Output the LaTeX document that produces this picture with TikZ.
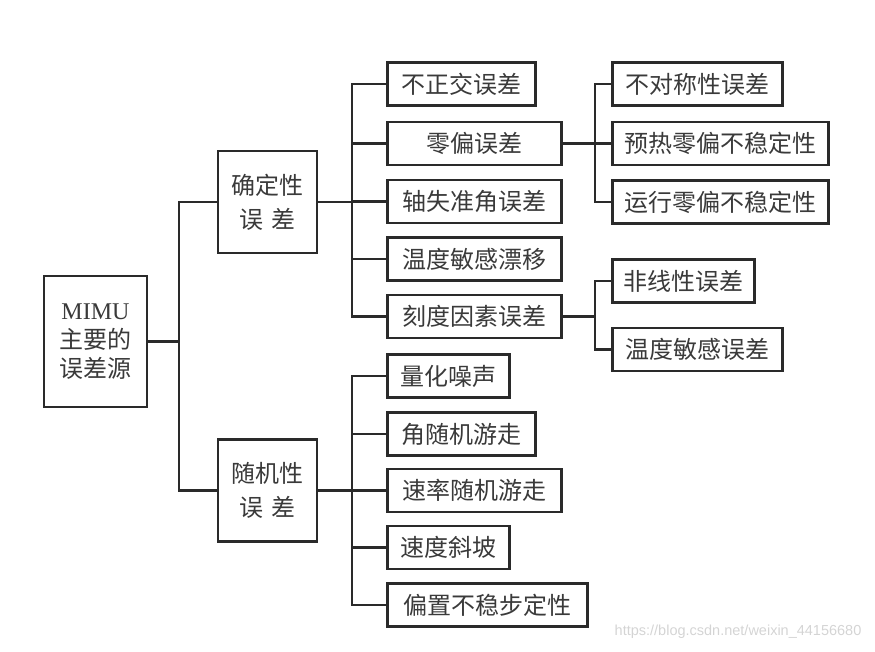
\documentclass[tikz,border=0pt]{standalone}
\usepackage{fontspec}
\setmainfont{Liberation Serif}
\newfontfamily\cjk{Noto Sans CJK SC}
\newfontfamily\wmfont{Liberation Sans}
\usetikzlibrary{positioning}
\definecolor{cline}{HTML}{2A2A2A}
\definecolor{ctext}{HTML}{3A3A3A}
\definecolor{cmark}{HTML}{D4D4D4}
\tikzset{
  every picture/.style={line width=2.6pt},
  box/.style={draw=cline, fill=white, anchor=west, minimum height=43pt, inner xsep=14pt, inner ysep=0pt,
    text=ctext, font=\cjk\fontsize{24}{28}\selectfont},
  group/.style={box, anchor=center, minimum width=99pt, minimum height=102pt, inner xsep=0pt, align=center,
    font=\cjk\fontsize{24}{34}\selectfont},
  link/.style={draw=cline, line width=2.6pt},
  watermark/.style={text=cmark, font=\wmfont\fontsize{14.5}{16}\selectfont, anchor=east},
}
\begin{document}
\begin{tikzpicture}[x=1pt, y=-1pt]
  \useasboundingbox (0,0) rectangle (875,651);
  % root and the two kinds of error
  \node[group, minimum width=103pt, minimum height=131pt, font=\cjk\fontsize{24}{29}\selectfont] (root) at (95.5,341.5)
    {{\rmfamily\fontsize{24}{29}\selectfont MIMU}\\主要的\\误差源};
  \node[group] (det) at (267.5,202) {确定性\\误\,\,差};
  \node[group] (rnd) at (267.5,490.5) {随机性\\误\,\,差};
  \coordinate (j1) at (179,341.5);
  \draw[link] (root.east) -- (j1);
  \draw[link] (det.west) -| (j1);
  \draw[link] (rnd.west) -| (j1);
  % deterministic errors
  \node[box] (d1) at (386,84) {不正交误差};
  \node[box, minimum width=174pt] (d2) at (386,143.5) {零偏误差};
  \node[box, inner xsep=15pt] (d3) at (386,201.5) {轴失准角误差};
  \node[box, inner xsep=15pt] (d4) at (386,259) {温度敏感漂移};
  \node[box, inner xsep=15pt] (d5) at (386,316.5) {刻度因素误差};
  \coordinate (j2) at (352,202);
  \draw[link] (det.east) -- (j2);
  \foreach \n in {d1,d2,d3,d4,d5} \draw[link] (\n.west) -| (j2);
  % bias errors
  \node[box, inner xsep=13pt] (b1) at (611,84) {不对称性误差};
  \node[box, inner xsep=12pt] (b2) at (611,143.5) {预热零偏不稳定性};
  \node[box, inner xsep=12pt] (b3) at (611,202) {运行零偏不稳定性};
  \coordinate (j3) at (595,143.5);
  \draw[link] (d2.east) -- (j3);
  \foreach \n in {b1,b2,b3} \draw[link] (\n.west) -| (j3);
  % scale factor errors
  \node[box, inner xsep=11pt] (s1) at (611,281) {非线性误差};
  \node[box, inner xsep=13pt] (s2) at (611,349.5) {温度敏感误差};
  \coordinate (j4) at (595,316.5);
  \draw[link] (d5.east) -- (j4);
  \foreach \n in {s1,s2} \draw[link] (\n.west) -| (j4);
  % random errors
  \node[box, inner xsep=13pt] (r1) at (386,376) {量化噪声};
  \node[box] (r2) at (386,434) {角随机游走};
  \node[box, inner xsep=15pt] (r3) at (386,490.5) {速率随机游走};
  \node[box, inner xsep=13pt] (r4) at (386,547.5) {速度斜坡};
  \node[box, inner xsep=16pt] (r5) at (386,605) {偏置不稳步定性};
  \coordinate (j5) at (352,490.5);
  \draw[link] (rnd.east) -- (j5);
  \foreach \n in {r1,r2,r3,r4,r5} \draw[link] (\n.west) -| (j5);
  \node[watermark] (wm) at (866,632) {https://blog.csdn.net/weixin\_44156680};
\end{tikzpicture}
\end{document}
